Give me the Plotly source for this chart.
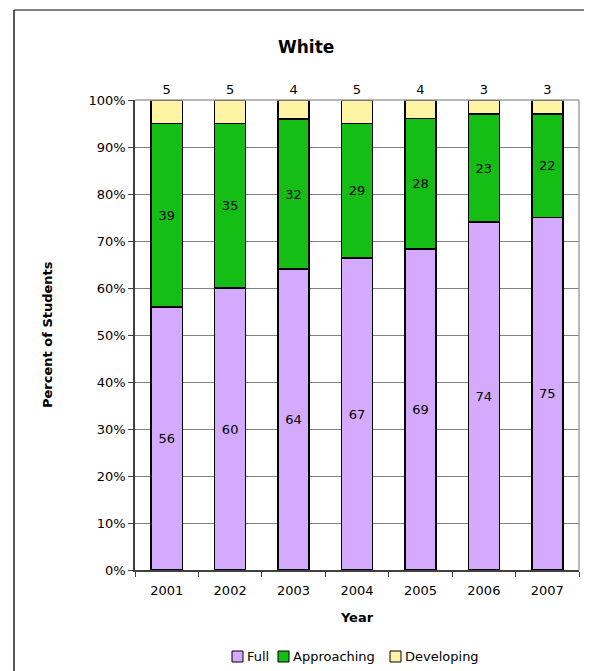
import plotly.graph_objects as go

years = ['2001', '2002', '2003', '2004', '2005', '2006', '2007']
full = [56, 60, 64, 67, 69, 74, 75]
approaching = [39, 35, 32, 29, 28, 23, 22]
developing = [5, 5, 4, 5, 4, 3, 3]
series_names = ['Full', 'Approaching', 'Developing']
series_colors = ['#D4AAFF', '#14BE14', '#FFF4A3']
y_ticks = [0, 10, 20, 30, 40, 50, 60, 70, 80, 90, 100]
y_tick_labels = [f'{v}%' for v in y_ticks]

font = 'DejaVu Sans'

fig = go.Figure()
for name, vals, color, pos in zip(series_names, [full, approaching, developing],
                                  series_colors, ['inside', 'inside', 'outside']):
    fig.add_trace(go.Bar(
        x=years, y=vals, name=name,
        marker=dict(color=color, line=dict(color='black', width=1.5)),
        text=vals, texttemplate='%{text}', textposition=pos,
        insidetextanchor='middle', cliponaxis=False,
        textfont=dict(family=font, size=13, color='black'),
        showlegend=False,
    ))

# the page body adds an 8px margin, so screen coords = figure coords + 8
OFF = 8
# plot area in screen pixels: x 135..579, y 100..570
L, R, T, B = 135 - OFF, 579 - OFF, 100 - OFF, 570 - OFF
W, H = R - L, B - T
def px(x): return (x - OFF - L) / W
def py(y): return (B - (y - OFF)) / H

fig.update_layout(
    width=592, height=671,
    margin=dict(l=L, r=592 - R, t=T, b=671 - B, autoexpand=False),
    barmode='stack', barnorm='percent', bargap=0.51,
    plot_bgcolor='white', paper_bgcolor='white',
    font=dict(family=font, size=13, color='black'),
    uniformtext=dict(mode=False),
)

fig.update_xaxes(
    showline=True, linecolor='#404040', linewidth=1.5, mirror=False,
    ticks='outside', tickson='boundaries', ticklen=5, tickcolor='#404040',
    ticklabelstandoff=8,
    title=dict(text='<b>Year</b>', font=dict(size=13), standoff=16),
    tickfont=dict(size=13),
)
fig.update_yaxes(
    range=[0, 100], tickvals=y_ticks, ticktext=y_tick_labels,
    showline=True, linecolor='#404040', linewidth=1.5,
    ticks='outside', ticklen=5, tickcolor='#404040',
    showgrid=True, gridcolor='#808080', gridwidth=1,
    tickfont=dict(size=13), zeroline=False,
)

# gray plot-area border on top and right
fig.add_shape(type='line', xref='paper', yref='paper', x0=0, x1=1, y0=1, y1=1,
              line=dict(color='#A0A0A0', width=1.5))
fig.add_shape(type='line', xref='paper', yref='paper', x0=1, x1=1, y0=0, y1=1,
              line=dict(color='#A0A0A0', width=1.5))

# outer chart frame
fig.add_shape(type='line', xref='paper', yref='paper', x0=px(14), x1=px(620), y0=py(10), y1=py(10),
              line=dict(color='#808080', width=2))
fig.add_shape(type='line', xref='paper', yref='paper', x0=px(14), x1=px(14), y0=py(10), y1=py(700),
              line=dict(color='#202020', width=1.5))

fig.add_annotation(text='<b>White</b>', xref='paper', yref='paper', x=px(306), y=py(47),
                   showarrow=False, font=dict(size=17), xanchor='center', yanchor='middle')
fig.add_annotation(text='<b>Percent of Students</b>', xref='paper', yref='paper', x=px(47), y=0.5,
                   showarrow=False, textangle=-90, font=dict(size=13), xanchor='center', yanchor='middle')

# compact legend in the Excel style: swatch immediately followed by its label
legend_swatch_x = [232, 278, 390]
for name, color, sx in zip(series_names, series_colors, legend_swatch_x):
    fig.add_shape(type='rect', xref='paper', yref='paper',
                  x0=px(sx), x1=px(sx + 11), y0=py(651), y1=py(662),
                  fillcolor=color, line=dict(color='black', width=1))
    fig.add_annotation(text=name, xref='paper', yref='paper', x=px(sx + 13), y=py(656.5),
                       showarrow=False, xanchor='left', yanchor='middle', font=dict(size=13))

fig.write_html('out.html')
